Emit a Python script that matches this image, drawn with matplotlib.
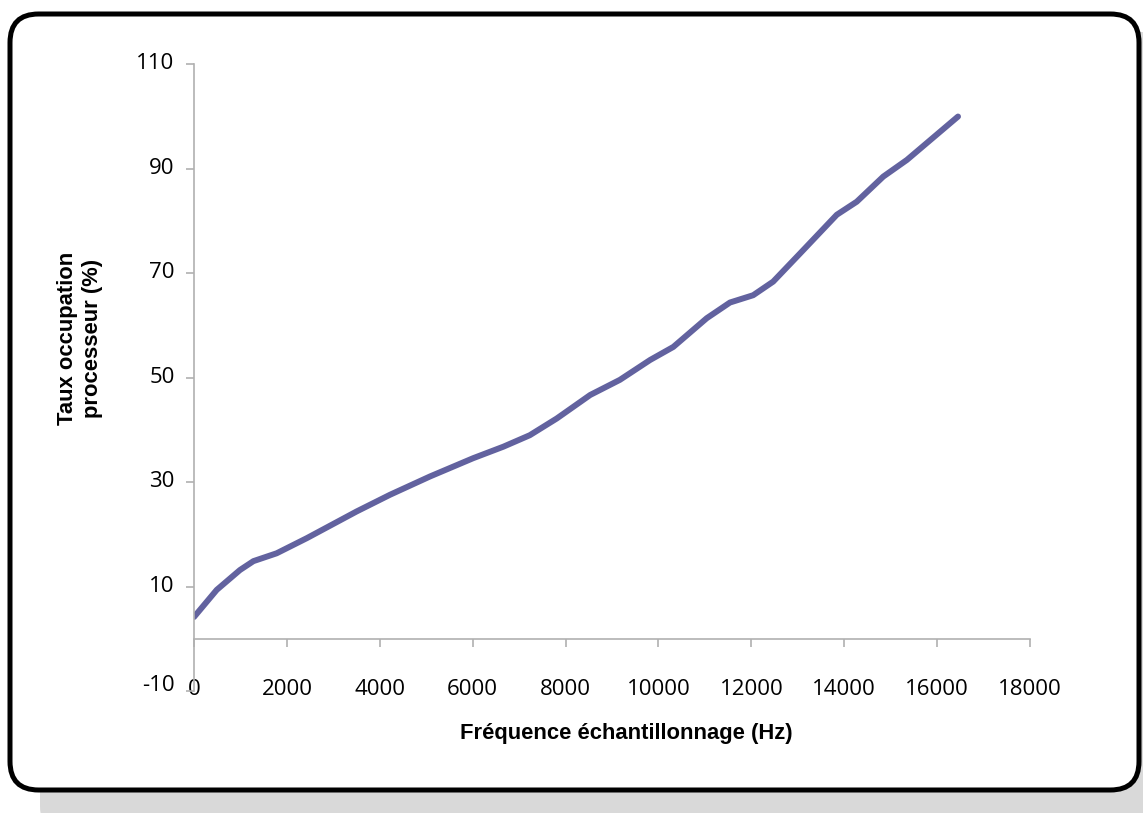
import matplotlib
matplotlib.use("Agg")
import matplotlib.pyplot as plt
import matplotlib.transforms as mtransforms
from matplotlib.patches import FancyBboxPatch

# ---- data ----
freq_hz = [0, 490, 990, 1280, 1780, 2430, 3500, 4220, 5080, 6010, 6660, 7230,
           7810, 8530, 9170, 9820, 10320, 11040, 11540, 12040, 12470, 13050,
           13840, 14270, 14840, 15350, 16450]
cpu_pct = [4.2, 9.4, 13.2, 14.9, 16.4, 19.3, 24.4, 27.6, 31.1, 34.6, 36.8, 39.0,
           42.2, 46.7, 49.6, 53.4, 55.9, 61.4, 64.4, 65.8, 68.4, 73.8,
           81.2, 83.7, 88.5, 91.7, 100.0]
x_ticks = [0, 2000, 4000, 6000, 8000, 10000, 12000, 14000, 16000, 18000]
y_ticks = [-10, 10, 30, 50, 70, 90, 110]
x_label = "Fréquence échantillonnage (Hz)"
y_label = "Taux occupation\nprocesseur (%)"

W, H = 1143, 813
fig = plt.figure(figsize=(W / 100, H / 100), dpi=100)
fig.patch.set_facecolor("white")

def fr(x0, y0, x1, y1):
    return x0 / W, 1 - y1 / H, (x1 - x0) / W, (y1 - y0) / H

sx, sy, sw, sh = fr(40, 32, 1175, 840)
shadow = FancyBboxPatch((sx, sy), sw, sh, boxstyle="round,pad=0,rounding_size=0.03",
                        transform=fig.transFigure, facecolor="#d9d9d9",
                        edgecolor="none", zorder=0, mutation_aspect=W / H)
fig.patches.append(shadow)
bx, by, bw, bh = fr(10, 14, 1139, 790)
frame = FancyBboxPatch((bx, by), bw, bh, boxstyle="round,pad=0,rounding_size=0.025",
                       transform=fig.transFigure, facecolor="white",
                       edgecolor="black", linewidth=3.6, zorder=1,
                       mutation_aspect=W / H)
fig.patches.append(frame)

ax = fig.add_axes([194 / W, 1 - 691.2 / H, (1030 - 194) / W, (691.2 - 64.3) / H])
ax.set_zorder(2)
ax.patch.set_alpha(0)

ax.plot(freq_hz, cpu_pct, color="#62629f", linewidth=4.3, solid_capstyle="round",
        solid_joinstyle="round")

ax.set_xlim(0, 18000)
ax.set_ylim(-10, 110)
ax.set_xticks(x_ticks)
ax.set_yticks(y_ticks)
ax.set_xticklabels([str(v) for v in x_ticks])
ax.set_yticklabels([str(v) for v in y_ticks])

axis_col = "#b0b0b0"
ax.spines["top"].set_visible(False)
ax.spines["right"].set_visible(False)
ax.spines["bottom"].set_position(("data", 0))
for s in ("left", "bottom"):
    ax.spines[s].set_color(axis_col)
    ax.spines[s].set_linewidth(1.2)

ax.tick_params(axis="x", direction="out", length=6, width=1.2, color=axis_col,
               pad=23, labelsize=16)
ax.tick_params(axis="y", direction="out", length=6, width=1.2, color=axis_col,
               pad=8, labelsize=16)
for lab in ax.get_xticklabels() + ax.get_yticklabels():
    lab.set_fontfamily("Open Sans")

# y tick labels sit slightly above their ticks in the reference
for val, lab in zip(y_ticks, ax.get_yticklabels()):
    dy = 8 if val == -10 else 3
    lab.set_transform(lab.get_transform() +
                      mtransforms.ScaledTranslation(0, dy / 100, fig.dpi_scale_trans))

fig.text(626 / W, 1 - 733 / H, x_label, ha="center", va="center",
         fontsize=15.8, fontweight="bold", family="Liberation Sans")
fig.text(80 / W, 1 - 338 / H, y_label, ha="center", va="center", rotation=90,
         fontsize=15.8, fontweight="bold", family="Liberation Sans",
         multialignment="center", linespacing=1.2)

fig.savefig("out.png", dpi=100)
